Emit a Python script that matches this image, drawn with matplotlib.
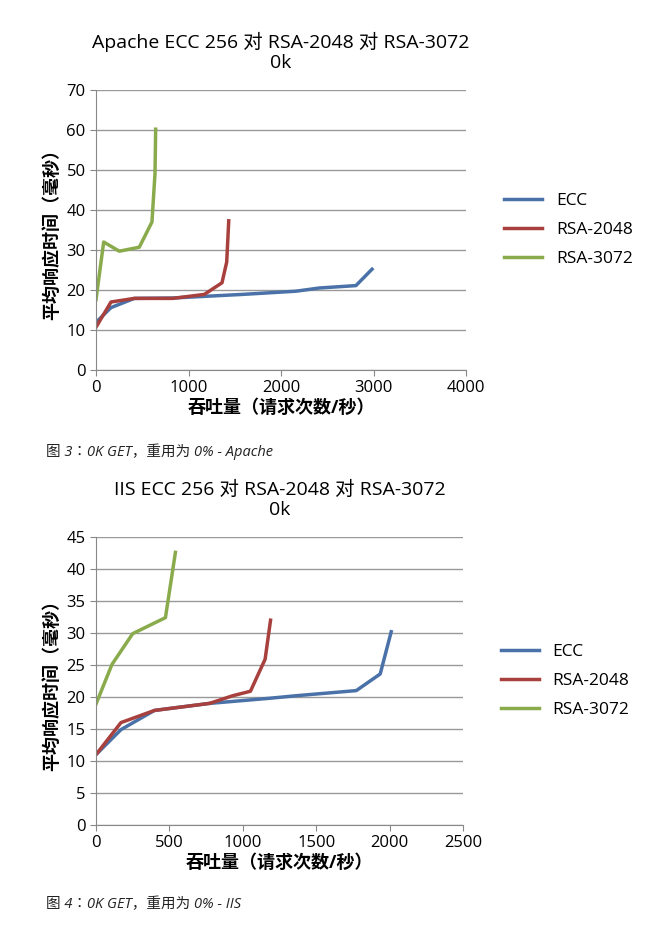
import matplotlib
matplotlib.use("Agg")
import matplotlib.pyplot as plt
from matplotlib import font_manager as fm

avail = {f.name for f in fm.fontManager.ttflist}
cjk = [n for n in ["Noto Sans CJK SC", "Noto Sans CJK JP", "Noto Sans CJK TC", "Noto Sans CJK KR"] if n in avail]
plt.rcParams['font.family'] = ['Open Sans'] + cjk + ['DejaVu Sans']

a_ecc_x = [0, 162, 414, 829, 1585, 2162, 2414, 2810, 2984]
a_ecc_y = [11.9, 15.6, 17.9, 18.0, 18.9, 19.7, 20.5, 21.1, 25.2]
a_r2_x = [0, 162, 414, 829, 1171, 1362, 1413, 1435]
a_r2_y = [10.7, 17.0, 17.9, 17.9, 18.9, 21.8, 27.0, 37.3]
a_r3_x = [0, 83, 252, 468, 605, 638, 645]
a_r3_y = [17.6, 32.0, 29.7, 30.7, 37.0, 49.2, 60.2]

i_ecc_x = [0, 170, 398, 773, 1182, 1364, 1773, 1936, 2011]
i_ecc_y = [11.0, 14.9, 17.9, 19.0, 19.8, 20.2, 21.0, 23.6, 30.2]
i_r2_x = [0, 170, 398, 773, 932, 1052, 1152, 1189]
i_r2_y = [11.0, 16.0, 17.9, 19.0, 20.2, 20.9, 25.9, 32.0]
i_r3_x = [0, 109, 250, 473, 541]
i_r3_y = [18.9, 25.1, 29.9, 32.4, 42.6]

names = ["ECC", "RSA-2048", "RSA-3072"]
colors = ["#4a72a8", "#a8413e", "#8aab4c"]

W, H = 659, 940
fig = plt.figure(figsize=(W/100, H/100), dpi=100)

def make(box, series, xmax, xstep, ymax, ystep, title, caption, capy):
    l, t, r, b = box
    ax = fig.add_axes([l/W, 1-b/H, (r-l)/W, (b-t)/H])
    for (x, y), n, c in zip(series, names, colors):
        ax.plot(x, y, color=c, lw=2.5, label=n)
    ax.set_xlim(0, xmax); ax.set_ylim(0, ymax)
    ax.set_xticks(range(0, xmax+1, xstep)); ax.set_yticks(range(0, ymax+1, ystep))
    ax.grid(axis='y', color='#999999', lw=1)
    ax.set_axisbelow(True)
    for s in ['top', 'right']:
        ax.spines[s].set_visible(False)
    for s in ['left', 'bottom']:
        ax.spines[s].set_color('#888888')
    ax.tick_params(colors='#888888', labelcolor='black', labelsize=12, direction='out', length=4)
    ax.set_xlabel("吞吐量（请求次数/秒）", fontsize=13, fontweight='bold', labelpad=2)
    ax.set_ylabel("平均响应时间（毫秒）", fontsize=13, fontweight='bold')
    ax.set_title(title, fontsize=14, pad=16, linespacing=1.15)
    ax.legend(loc='center left', bbox_to_anchor=(1.06, 0.5), frameon=False, fontsize=12.5,
              handlelength=2.2, labelspacing=0.75)
    fig.text(46/W, 1-capy/H, caption, fontsize=10.5, style='italic', va='center', color='#222222')
    return ax

make((96, 90, 466, 370), [(a_ecc_x, a_ecc_y), (a_r2_x, a_r2_y), (a_r3_x, a_r3_y)],
     4000, 1000, 70, 10, "Apache ECC 256 对 RSA-2048 对 RSA-3072\n0k", "图 3：0K GET，重用为 0% - Apache", 452)
make((96, 537, 463, 825), [(i_ecc_x, i_ecc_y), (i_r2_x, i_r2_y), (i_r3_x, i_r3_y)],
     2500, 500, 45, 5, "IIS ECC 256 对 RSA-2048 对 RSA-3072\n0k", "图 4：0K GET，重用为 0% - IIS", 905)

fig.savefig("out.png", dpi=100)
